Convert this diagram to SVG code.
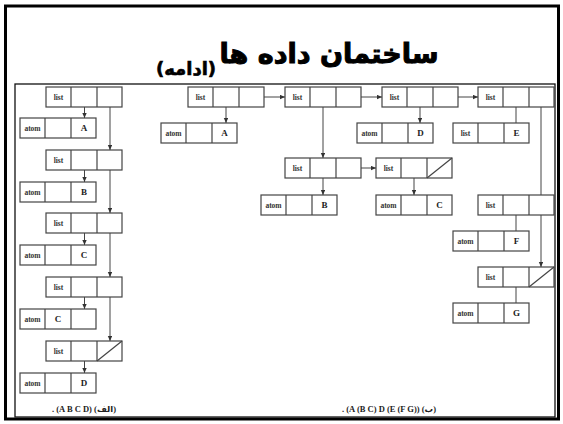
<svg xmlns="http://www.w3.org/2000/svg" width="563" height="424" viewBox="0 0 563 424">
<style>
.bx{fill:#fff;stroke:#444;stroke-width:1.2}
.dv{stroke:#444;stroke-width:1.2}
.ln{stroke:#444;stroke-width:1;fill:none}
.t{font-family:"Liberation Serif","DejaVu Serif",serif;font-weight:bold;font-size:7.5px;fill:#333;text-anchor:middle}
.v{font-family:"Liberation Serif","DejaVu Serif",serif;font-weight:bold;font-size:9px;fill:#222;text-anchor:middle}
.cap{font-family:"Liberation Serif","DejaVu Sans",serif;font-weight:bold;font-size:8.5px;fill:#222;text-anchor:middle}
.ttl{font-family:"DejaVu Sans","Noto Sans",sans-serif;font-weight:bold;fill:#000;stroke:#000;text-anchor:middle}
</style>
<defs>
<marker id="ah" markerUnits="userSpaceOnUse" markerWidth="6" markerHeight="5" refX="5" refY="2.2" orient="auto">
<path d="M0,0 L5,2.2 L0,4.4 z" fill="#333"/>
</marker>
<g id="cells"><rect class="bx" x="0" y="0" width="76" height="20"/><line class="dv" x1="25" y1="0" x2="25" y2="20"/><line class="dv" x1="51" y1="0" x2="51" y2="20"/></g>
<g id="listn"><use href="#cells"/><text class="t" x="12.5" y="13">list</text></g>
<g id="atomn"><use href="#cells"/><text class="t" x="12.5" y="13">atom</text></g>
<line id="slash" class="dv" x1="51" y1="20" x2="76" y2="0"/>
</defs>

<rect x="5.5" y="6" width="553" height="413" fill="none" stroke="#000" stroke-width="3"/>
<rect x="15" y="84" width="540" height="333" fill="none" stroke="#111" stroke-width="1.3"/>

<g id="title">
<text class="ttl" x="329" y="63" font-size="27" stroke-width="1">ساختمان داده ها</text>
<text class="ttl" x="186" y="75" font-size="18" stroke-width="0.6">(ادامه)</text>
</g>

<g id="connectors">
<line class="ln" x1="84.5" y1="97" x2="84.5" y2="118" marker-end="url(#ah)"/>
<line class="ln" x1="110" y1="97" x2="110" y2="150" marker-end="url(#ah)"/>
<line class="ln" x1="84.5" y1="160" x2="84.5" y2="182" marker-end="url(#ah)"/>
<line class="ln" x1="110" y1="160" x2="110" y2="213" marker-end="url(#ah)"/>
<line class="ln" x1="84.5" y1="223" x2="84.5" y2="245" marker-end="url(#ah)"/>
<line class="ln" x1="110" y1="223" x2="110" y2="277" marker-end="url(#ah)"/>
<line class="ln" x1="84.5" y1="287" x2="84.5" y2="309" marker-end="url(#ah)"/>
<line class="ln" x1="110" y1="287" x2="110" y2="341" marker-end="url(#ah)"/>
<line class="ln" x1="84.5" y1="351" x2="84.5" y2="373" marker-end="url(#ah)"/>

<line class="ln" x1="226" y1="97" x2="226" y2="123" marker-end="url(#ah)"/>
<line class="ln" x1="251" y1="97" x2="285" y2="97" marker-end="url(#ah)"/>
<line class="ln" x1="323" y1="97" x2="323" y2="158" marker-end="url(#ah)"/>
<line class="ln" x1="348" y1="97" x2="382" y2="97" marker-end="url(#ah)"/>
<line class="ln" x1="323" y1="168" x2="323" y2="195" marker-end="url(#ah)"/>
<line class="ln" x1="348" y1="168" x2="376" y2="168" marker-end="url(#ah)"/>
<line class="ln" x1="414" y1="168" x2="414" y2="195" marker-end="url(#ah)"/>
<line class="ln" x1="420" y1="97" x2="420" y2="123" marker-end="url(#ah)"/>
<line class="ln" x1="445" y1="97" x2="478" y2="97" marker-end="url(#ah)"/>
<line class="ln" x1="516" y1="97" x2="516" y2="123"/>
<line class="ln" x1="541" y1="97" x2="541" y2="195"/>
<line class="ln" x1="516" y1="205" x2="516" y2="231"/>
<line class="ln" x1="541" y1="205" x2="541" y2="267" marker-end="url(#ah)"/>
<line class="ln" x1="516" y1="277" x2="516" y2="303"/>
</g>

<g id="a-l1"><use href="#listn" x="46" y="87"/></g>
<g id="a-A"><use href="#atomn" x="20" y="118"/><text class="v" x="84" y="131">A</text></g>
<g id="a-l2"><use href="#listn" x="46" y="150"/></g>
<g id="a-B"><use href="#atomn" x="20" y="182"/><text class="v" x="84" y="195">B</text></g>
<g id="a-l3"><use href="#listn" x="46" y="213"/></g>
<g id="a-C"><use href="#atomn" x="20" y="245"/><text class="v" x="84" y="258">C</text></g>
<g id="a-l4"><use href="#listn" x="46" y="277"/></g>
<g id="a-C2"><use href="#atomn" x="20" y="309"/><text class="v" x="58" y="322">C</text></g>
<g id="a-l5"><use href="#listn" x="46" y="341"/><use href="#slash" x="46" y="341"/></g>
<g id="a-D"><use href="#atomn" x="20" y="373"/><text class="v" x="84" y="386">D</text></g>
<g id="a-cap"><text class="cap" x="84" y="412">. (A B C D) (الف)</text></g>

<g id="b-l1"><use href="#listn" x="188" y="87"/></g>
<g id="b-A"><use href="#atomn" x="161" y="123"/><text class="v" x="224.5" y="136">A</text></g>
<g id="b-l2"><use href="#listn" x="285" y="87"/></g>
<g id="b-s1"><use href="#listn" x="285" y="158"/></g>
<g id="b-B"><use href="#atomn" x="261" y="195"/><text class="v" x="324.5" y="208">B</text></g>
<g id="b-s2"><use href="#listn" x="376" y="158"/><use href="#slash" x="376" y="158"/></g>
<g id="b-C"><use href="#atomn" x="376" y="195"/><text class="v" x="439.5" y="208">C</text></g>
<g id="b-l3"><use href="#listn" x="382" y="87"/></g>
<g id="b-D"><use href="#atomn" x="357" y="123"/><text class="v" x="420.5" y="136">D</text></g>
<g id="b-l4"><use href="#listn" x="478" y="87"/></g>
<g id="b-E"><use href="#listn" x="453" y="123"/><text class="v" x="516.5" y="136">E</text></g>
<g id="b-f1"><use href="#listn" x="478" y="195"/></g>
<g id="b-F"><use href="#atomn" x="453" y="231"/><text class="v" x="516.5" y="244">F</text></g>
<g id="b-f2"><use href="#listn" x="478" y="267"/><use href="#slash" x="478" y="267"/></g>
<g id="b-G"><use href="#atomn" x="453" y="303"/><text class="v" x="516.5" y="316">G</text></g>
<g id="b-cap"><text class="cap" x="389" y="412">. (A (B C) D (E (F G)) (ب)</text></g>
</svg>
